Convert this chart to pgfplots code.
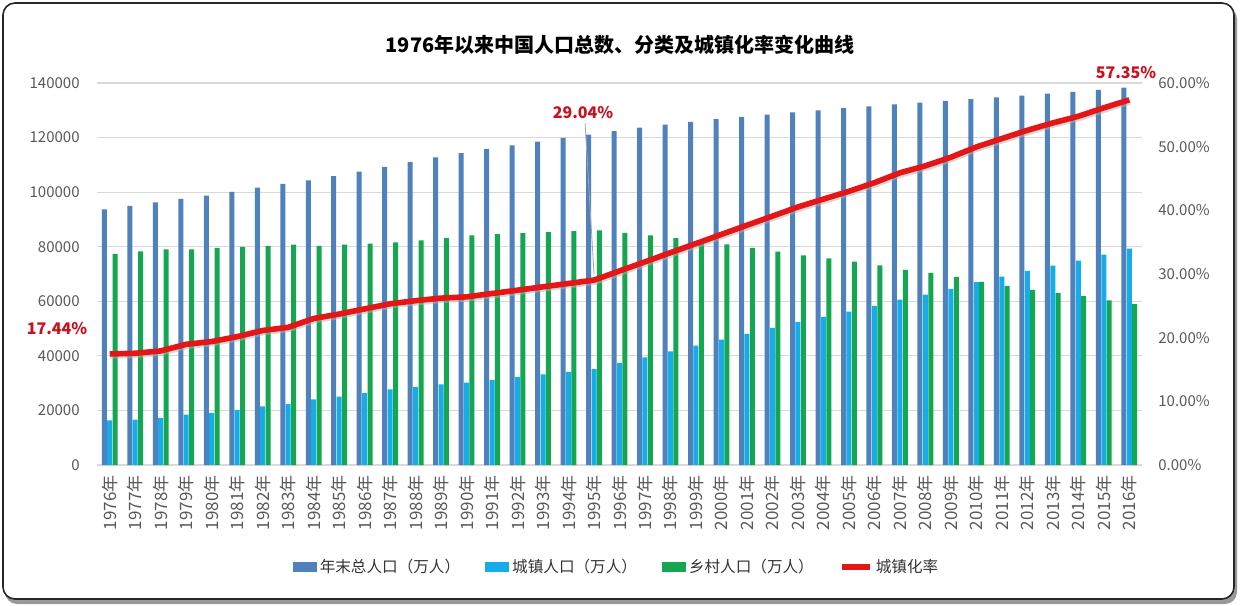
\documentclass[border=0pt]{standalone}
\usepackage{fontspec}
\setmainfont{Noto Sans CJK SC}
\usepackage{pgfplots}
\usepackage{pgfplotstable}
\pgfplotsset{compat=1.18}
\definecolor{totc}{RGB}{79,129,189}
\definecolor{urbc}{RGB}{22,172,232}
\definecolor{rurc}{RGB}{20,166,80}
\definecolor{ratec}{RGB}{228,22,22}
\definecolor{labc}{RGB}{200,16,30}
\definecolor{tickc}{RGB}{89,89,89}
\definecolor{gridc}{RGB}{217,217,217}

\pgfplotstableread{
idx year total urban rural rate
0 1976 93717 16341 77376 17.44
1 1977 94974 16669 78305 17.55
2 1978 96259 17245 79014 17.92
3 1979 97542 18495 79047 18.96
4 1980 98705 19140 79565 19.39
5 1981 100072 20171 79901 20.16
6 1982 101654 21480 80174 21.13
7 1983 103008 22274 80734 21.62
8 1984 104357 24017 80340 23.01
9 1985 105851 25094 80757 23.71
10 1986 107507 26366 81141 24.52
11 1987 109300 27674 81626 25.32
12 1988 111026 28661 82365 25.81
13 1989 112704 29540 83164 26.21
14 1990 114333 30195 84138 26.41
15 1991 115823 31203 84620 26.94
16 1992 117171 32175 84996 27.46
17 1993 118517 33173 85344 27.99
18 1994 119850 34169 85681 28.51
19 1995 121121 35174 85947 29.04
20 1996 122389 37304 85085 30.48
21 1997 123626 39449 84177 31.91
22 1998 124761 41608 83153 33.35
23 1999 125786 43748 82038 34.78
24 2000 126743 45906 80837 36.22
25 2001 127627 48064 79563 37.66
26 2002 128453 50212 78241 39.09
27 2003 129227 52376 76851 40.53
28 2004 129988 54283 75705 41.76
29 2005 130756 56212 74544 42.99
30 2006 131448 58288 73160 44.34
31 2007 132129 60633 71496 45.89
32 2008 132802 62403 70399 46.99
33 2009 133450 64512 68938 48.34
34 2010 134091 66978 67113 49.95
35 2011 134735 69079 65656 51.27
36 2012 135404 71182 64222 52.57
37 2013 136072 73111 62961 53.73
38 2014 136782 74916 61866 54.77
39 2015 137462 77116 60346 56.10
40 2016 138271 79298 58973 57.35
}\popdata

\begin{document}
\begin{tikzpicture}
\useasboundingbox (0,0) rectangle (620pt,302.5pt);
\fill[black!40, rounded corners=6pt] (2.5pt,0.5pt) rectangle (618.5pt,299pt);
\draw[black!85, line width=0.8pt, fill=white, rounded corners=6pt] (1.5pt,3pt) rectangle (617pt,301pt);
\node[font=\bfseries\fontsize{10}{12}\selectfont] at (310pt,280pt) {1976年以来中国人口总数、分类及城镇化率变化曲线};

\begin{axis}[
  at={(48.5pt,70pt)}, anchor=south west, scale only axis,
  width=522.5pt, height=191pt,
  xmin=-0.5, xmax=40.5, ymin=0, ymax=140000,
  ybar=0.2pt, bar width=2.5pt,
  axis line style={draw=none}, major tick length=0pt,
  ymajorgrids, grid style={gridc, line width=0.6pt},
  ytick={0,20000,40000,60000,80000,100000,120000,140000}, scaled y ticks=false,
  yticklabels={0,20000,40000,60000,80000,100000,120000,140000},
  yticklabel style={font=\fontsize{7.5}{9}\selectfont, text=tickc, inner sep=0pt, anchor=east},
  yticklabel shift=8.5pt,
  xtick={0,...,40},
  xticklabels={1976年,1977年,1978年,1979年,1980年,1981年,1982年,1983年,1984年,1985年,1986年,1987年,1988年,1989年,1990年,1991年,1992年,1993年,1994年,1995年,1996年,1997年,1998年,1999年,2000年,2001年,2002年,2003年,2004年,2005年,2006年,2007年,2008年,2009年,2010年,2011年,2012年,2013年,2014年,2015年,2016年},
  xticklabel style={rotate=90, anchor=east, font=\fontsize{8.5}{10}\selectfont, text=tickc, inner sep=0pt},
  xticklabel shift=5pt,
  legend columns=4,
  legend style={draw=none, fill=none, at={(0.4976,-0.267)}, anchor=center, font=\fontsize{7.8}{9}\selectfont, text=black!80,
    nodes={inner xsep=1.5pt},
    /tikz/every even column/.append style={column sep=11pt}},
  legend cell align=left,
]
\addplot[fill=totc, draw=none, legend image code/.code={\fill[totc] (0pt,-2.5pt) rectangle (12pt,2.5pt);}] table[x=idx,y=total]{\popdata};
\addlegendentry{年末总人口（万人）}
\addplot[fill=urbc, draw=none, legend image code/.code={\fill[urbc] (0pt,-2.5pt) rectangle (12pt,2.5pt);}] table[x=idx,y=urban]{\popdata};
\addlegendentry{城镇人口（万人）}
\addplot[fill=rurc, draw=none, legend image code/.code={\fill[rurc] (0pt,-2.5pt) rectangle (12pt,2.5pt);}] table[x=idx,y=rural]{\popdata};
\addlegendentry{乡村人口（万人）}
\addlegendimage{legend image code/.code={\draw[ratec, line width=3pt] (0pt,0pt) -- (14pt,0pt);}}
\addlegendentry{城镇化率}
\end{axis}

\begin{axis}[
  at={(48.5pt,70pt)}, anchor=south west, scale only axis,
  width=522.5pt, height=191pt,
  xmin=-0.5, xmax=40.5, ymin=0, ymax=60,
  axis y line*=right, axis x line=none,
  y axis line style={draw=none}, major tick length=0pt,
  ytick={0,10,20,30,40,50,60},
  yticklabels={0.00\%,10.00\%,20.00\%,30.00\%,40.00\%,50.00\%,60.00\%},
  yticklabel style={font=\fontsize{7.5}{9}\selectfont, text=tickc, inner sep=0pt, anchor=west},
  yticklabel shift=8pt,
  clip=false,
]
\addplot[black!30, line width=2.8pt, line join=round, opacity=0.5, yshift=-1pt, xshift=0.5pt, forget plot] table[x=idx,y=rate]{\popdata};
\addplot[ratec, line width=2.8pt, line join=round] table[x=idx,y=rate]{\popdata};
\node[font=\bfseries\fontsize{8}{9}\selectfont, text=labc] at (axis cs:-2.07,21.5) {17.44\%};
\node[font=\bfseries\fontsize{8}{9}\selectfont, text=labc] at (axis cs:18.57,55.4) {29.04\%};
\draw[black!35, line width=0.4pt] (axis cs:18.65,53.6) -- (axis cs:19,30);
\node[font=\bfseries\fontsize{8}{9}\selectfont, text=labc] at (axis cs:39.87,61.6) {57.35\%};
\end{axis}
\end{tikzpicture}
\end{document}
